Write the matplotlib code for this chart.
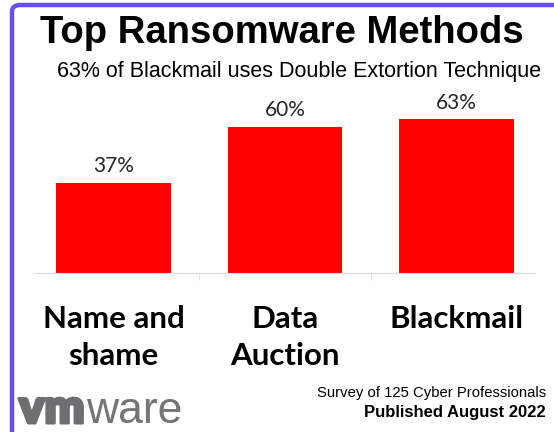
import matplotlib
matplotlib.use("Agg")
import matplotlib.pyplot as plt
import matplotlib.patheffects as pe
from matplotlib.patches import FancyBboxPatch

methods = ["Name and\nshame", "Data\nAuction", "Blackmail"]
shares = [37, 60, 63]
value_labels = ["37%", "60%", "63%"]

title = "Top Ransomware Methods"
subtitle = "63% of Blackmail uses Double Extortion Technique"
source_lines = ["Survey of 125 Cyber Professionals", "Published August 2022"]


def main():
    W, H = 554, 432
    fig = plt.figure(figsize=(W / 100, H / 100), dpi=100)
    fig.patch.set_facecolor("white")

    # purple frame, only the top-left corner shows
    frame = FancyBboxPatch((12 / W, -0.2), 1.2, (H - 5) / H + 0.2,
                           boxstyle="round,pad=0,rounding_size=0.015",
                           transform=fig.transFigure, fill=False,
                           edgecolor="#6b4ef0", linewidth=3.2)
    fig.patches.append(frame)

    ax = fig.add_axes([35 / W, (H - 273) / H, 500 / W, 173 / H])
    x = range(len(methods))
    bars = ax.bar(x, shares, width=0.67, color="#ff0000", zorder=2)
    ax.set_ylim(0, 71)
    ax.set_xlim(-0.46, 2.46)

    for b, lab in zip(bars, value_labels):
        ax.annotate(lab, (b.get_x() + b.get_width() / 2, b.get_height()),
                    xytext=(0, 5), textcoords="offset points",
                    ha="center", va="bottom", fontsize=15,
                    family="Lato", color="#262626")

    for s in ["top", "right", "left"]:
        ax.spines[s].set_visible(False)
    ax.spines["bottom"].set_color("#d9d9d9")
    ax.spines["bottom"].set_linewidth(0.8)
    ax.set_yticks([])

    ax.set_xticks(list(x))
    ax.set_xticklabels(methods, fontsize=22.5, fontweight="bold",
                       family="Lato", linespacing=1.4)
    ax.set_xticks([0.5, 1.5], minor=True)
    ax.tick_params(axis="x", which="major", length=0, pad=23)
    ax.tick_params(axis="x", which="minor", length=5, color="#e0e0e0")

    fig.text(0.5 * (40 + 523) / W, 1 - 33 / H, title, ha="center",
             va="center", fontsize=27.5, fontweight="bold",
             family="Liberation Sans")
    fig.text(0.5 * (57 + 542) / W, 1 - 72 / H, subtitle, ha="center",
             va="center", fontsize=15.5, family="Liberation Sans")

    fig.text(546 / W, 1 - 393 / H, source_lines[0], ha="right",
             va="center", fontsize=10.7, family="Liberation Sans")
    fig.text(546 / W, 1 - 413 / H, source_lines[1], ha="right",
             va="center", fontsize=12, fontweight="bold",
             family="Liberation Sans")

    # vmware wordmark
    vm = fig.text(19 / W, 1 - 423 / H, "vm", ha="left", va="baseline",
                  fontsize=34, fontweight="heavy", family="Lato",
                  color="#6f6f72",
                  path_effects=[pe.withStroke(linewidth=2.2,
                                              foreground="#6f6f72")])
    fig.canvas.draw()
    bb = vm.get_window_extent()
    fig.text((bb.x1 + 1) / W, 1 - 423 / H, "ware", ha="left",
             va="baseline", fontsize=32, fontweight="normal",
             family="Liberation Sans", color="#757578")

    fig.savefig("out.png", dpi=100)


if __name__ == "__main__":
    main()
